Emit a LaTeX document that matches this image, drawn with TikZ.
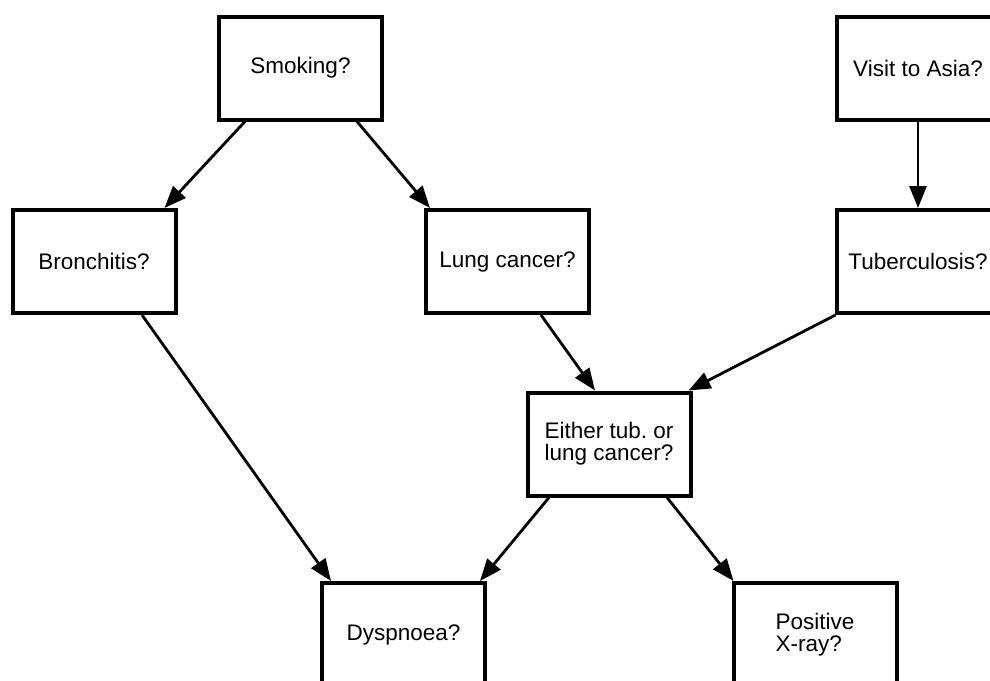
\documentclass[tikz,border=0pt]{standalone}
\usepackage{fontspec}
\setmainfont{Liberation Sans}
\usetikzlibrary{arrows.meta}

\begin{document}
\begin{tikzpicture}[x=1pt, y=-1pt,
  question/.style={draw=black, line width=4pt, fill=white,
    minimum width=163pt, minimum height=103pt, inner sep=0pt,
    align=left, font=\fontsize{22.5pt}{22pt}\selectfont},
  link/.style={line width=2.8pt,
    -{Triangle[length=22pt, width=17pt]}}]

  \useasboundingbox (0,0) rectangle (990,680);
  \clip (0,0) rectangle (990,680);

  % questions of the network
  \node[question] (smoke) at (300.5,68)  {Smoking?};
  \node[question] (visit) at (918,68)    {Visit to Asia?};
  \node[question] (bron)  at (94,261.5)  {Bronchitis?};
  \node[question] (lung)  at (507.5,261.5) {Lung cancer?};
  \node[question] (tub)   at (918,261.5) {Tuberculosis?};
  \node[question] (either) at (609,444)  {Either tub.\ or\\lung cancer?};
  \node[question] (dysp)  at (403.5,634.5) {Dyspnoea?};
  \node[question] (xray)  at (815,634.5) {Positive\\X-ray?};

  % dependencies between them
  \draw[link] ([xshift=-55.5pt]smoke.south) -- ([xshift=-13pt]bron.north east);
  \draw[link] ([xshift=56.5pt]smoke.south) -- ([xshift=6pt]lung.north west);
  \draw[link] (visit.south) -- (tub.north);
  \draw[link] ([xshift=48pt]bron.south) -- ([xshift=11pt]dysp.north west);
  \draw[link] ([xshift=33.5pt]lung.south) -- ([xshift=-14pt]either.north);
  \draw[link] ([xshift=1pt]tub.south west) -- ([xshift=-4pt]either.north east);
  \draw[link] ([xshift=-60pt]either.south) -- ([xshift=-7pt]dysp.north east);
  \draw[link] ([xshift=58pt]either.south) -- ([xshift=2pt]xray.north west);
\end{tikzpicture}
\end{document}
